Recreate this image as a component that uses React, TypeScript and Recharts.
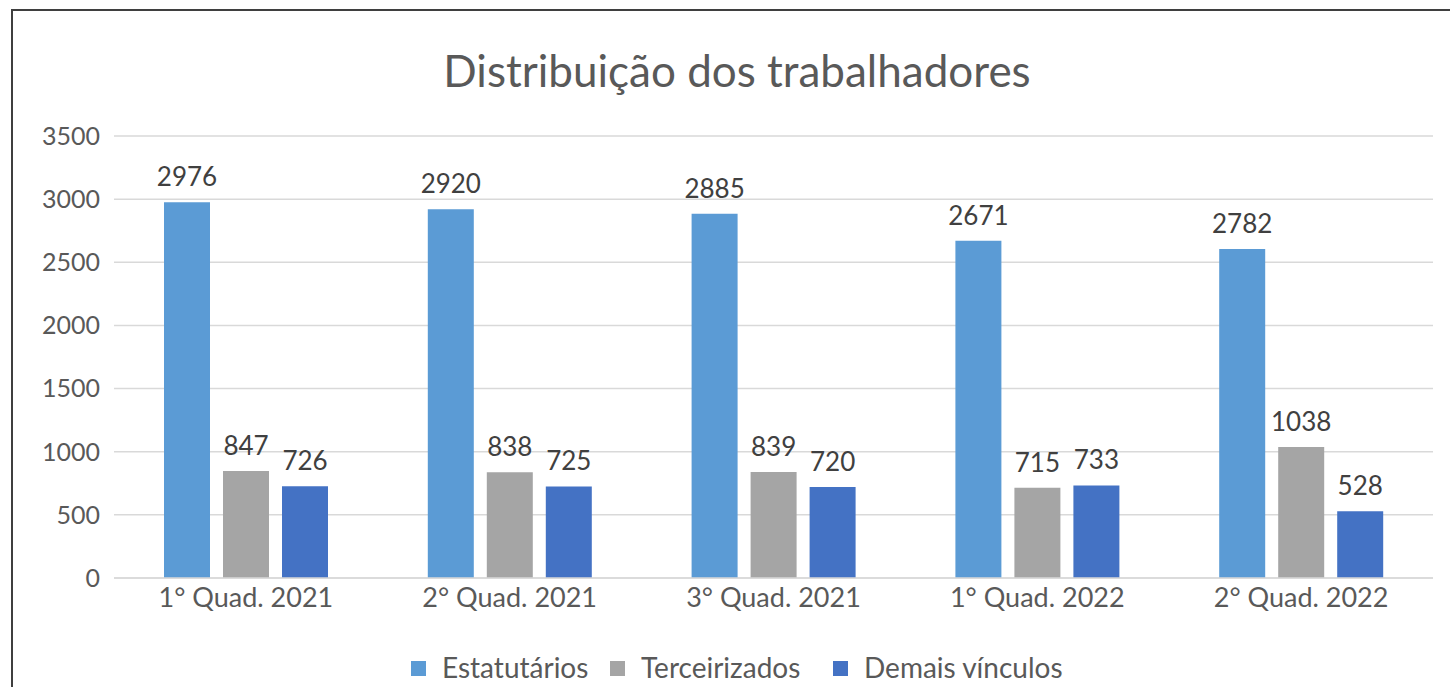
import React from 'react';
import { BarChart, Bar, XAxis, YAxis, CartesianGrid, Legend, LabelList } from 'recharts';

const categories = ['1° Quad. 2021', '2° Quad. 2021', '3° Quad. 2021', '1° Quad. 2022', '2° Quad. 2022'];
const estatutarios = [2976, 2920, 2885, 2671, 2605];
const estatutariosLabels = ['2976', '2920', '2885', '2671', '2782'];
const terceirizados = [847, 838, 839, 715, 1038];
const demais = [726, 725, 720, 733, 528];
const yTicks = [0, 500, 1000, 1500, 2000, 2500, 3000, 3500];

const seriesNames = ['Estatutários', 'Terceirizados', 'Demais vínculos'];
const seriesColors = ['#5B9BD5', '#A5A5A5', '#4472C4'];

const data = categories.map((c, i) => ({
  name: c,
  est: estatutarios[i],
  estLabel: estatutariosLabels[i],
  ter: terceirizados[i],
  dem: demais[i],
}));

const FONT = 'Lato, "Open Sans", sans-serif';
const legendLefts = [411, 610, 833];

const LegendContent = () => (
  <div style={{ position: 'relative', width: 1450, height: 30 }}>
    {seriesNames.map((n, i) => (
      <div
        key={n}
        style={{
          position: 'absolute',
          left: legendLefts[i],
          top: 0,
          display: 'flex',
          alignItems: 'center',
          height: 30,
          whiteSpace: 'nowrap',
        }}
      >
        <span style={{ width: 15, height: 15, background: seriesColors[i], display: 'inline-block', marginRight: 16, marginTop: 3 }} />
        <span style={{ fontFamily: FONT, fontSize: 28, color: '#595959' }}>{n}</span>
      </div>
    ))}
  </div>
);

const labelStyle = { fontFamily: FONT, fontSize: 26, fill: '#404040' };

export default function App() {
  return (
    <div style={{ position: 'fixed', left: 0, top: 0, width: 1450, height: 687, background: '#fff', overflow: 'hidden' }}>
      <div
        style={{
          position: 'absolute',
          left: 11,
          top: 9,
          width: 1460,
          height: 700,
          borderLeft: '2px solid #3f3f3f',
          borderTop: '2px solid #3f3f3f',
        }}
      />
      <div
        style={{
          position: 'absolute',
          left: 237,
          top: 44,
          width: 1000,
          textAlign: 'center',
          fontFamily: FONT,
          fontSize: 44,
          fontWeight: 400,
          color: '#595959',
          lineHeight: '53px',
        }}
      >
        Distribuição dos trabalhadores
      </div>
      <div style={{ position: 'absolute', left: 0, top: 0 }}>
        <BarChart
          width={1450}
          height={687}
          data={data}
          margin={{ top: 136, right: 17, left: 54, bottom: 79 }}
          barSize={46}
          barGap={13}
        >
          <CartesianGrid vertical={false} stroke="#d9d9d9" strokeWidth={1.5} />
          <XAxis
            dataKey="name"
            tickLine={false}
            axisLine={{ stroke: '#d9d9d9', strokeWidth: 1.5 }}
            tick={{ fontFamily: FONT, fontSize: 27, fill: '#595959' }}
            tickMargin={4}
            height={30}
            interval={0}
          />
          <YAxis
            width={60}
            domain={[0, 3500]}
            ticks={yTicks}
            interval={0}
            tickLine={false}
            axisLine={false}
            tickMargin={8}
            tick={{ fontFamily: FONT, fontSize: 25, fill: '#595959' }}
          />
          <Legend
            content={<LegendContent />}
            wrapperStyle={{ left: 0, top: 652, width: 1450, height: 0 }}
          />
          <Bar dataKey="est" name={seriesNames[0]} fill={seriesColors[0]} isAnimationActive={false}>
            <LabelList dataKey="estLabel" position="top" offset={16} style={labelStyle} />
          </Bar>
          <Bar dataKey="ter" name={seriesNames[1]} fill={seriesColors[1]} isAnimationActive={false}>
            <LabelList dataKey="ter" position="top" offset={16} style={labelStyle} />
          </Bar>
          <Bar dataKey="dem" name={seriesNames[2]} fill={seriesColors[2]} isAnimationActive={false}>
            <LabelList dataKey="dem" position="top" offset={16} style={labelStyle} />
          </Bar>
        </BarChart>
      </div>
    </div>
  );
}
